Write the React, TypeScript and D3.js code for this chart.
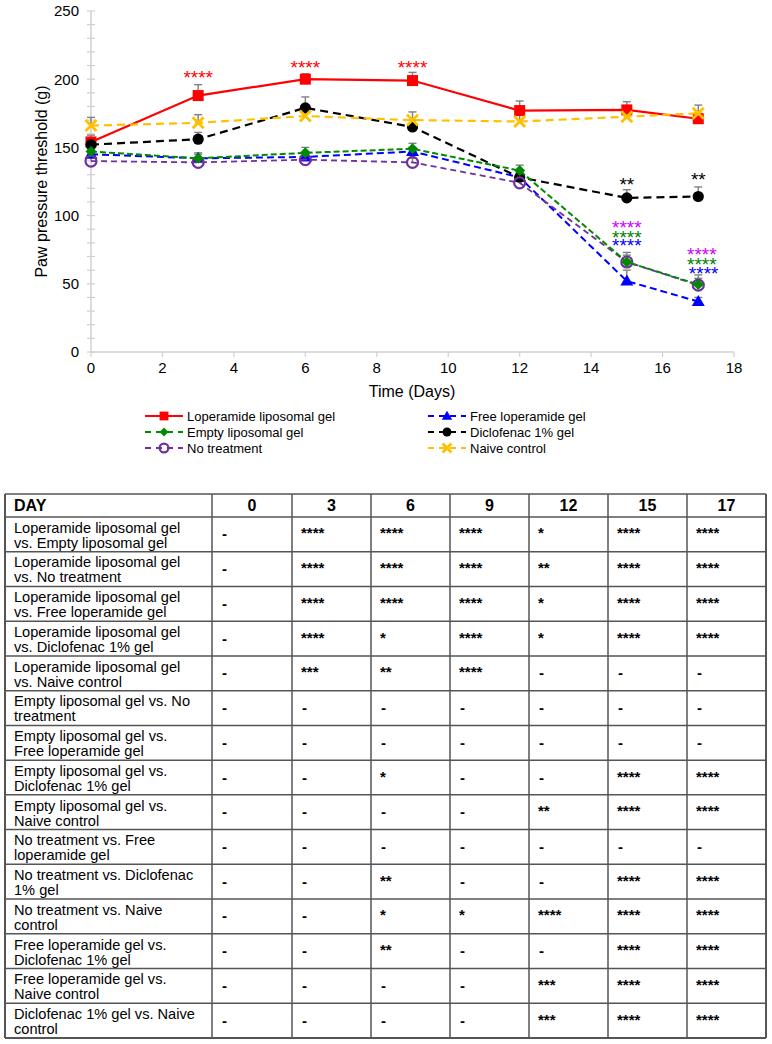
import * as d3 from 'd3'

const days = [0, 3, 6, 9, 12, 15, 17]

const loperamideLipo = [154, 188, 200, 199, 177, 177.5, 171]
const loperamideLipoErr = [5, 8, 4, 6, 7, 6, 4]
const freeLoperamide = [145, 142, 143, 147, 128, 52, 37]
const freeLoperamideErr = [3, 3, 3, 3, 3, 8, 3]
const diclofenac = [152, 156, 179, 165, 128, 113, 114]
const diclofenacErr = [5, 5, 8, 5, 4, 6, 7]
const noTreatment = [140, 139, 141, 139, 124, 66, 49]
const noTreatmentErr = [3, 3, 3, 3, 3, 5, 5]
const emptyLipo = [147, 142, 146, 149, 133, 66, 49.5]
const emptyLipoErr = [4, 4, 4, 4, 4, 7, 7]
const naiveControl = [166, 168, 173, 170, 169, 172.5, 175]
const naiveControlErr = [6, 6, 3, 6, 5, 4, 6]

const yTicks = [0, 50, 100, 150, 200, 250]
const xTicks = [0, 2, 4, 6, 8, 10, 12, 14, 16, 18]

// significance marks on the chart: day, value of the text baseline, colour
const chartStars = [
  { day: 3, y: 196.5, color: '#ff0000', text: '****' },
  { day: 6, y: 204, color: '#ff0000', text: '****' },
  { day: 9, y: 204, color: '#ff0000', text: '****' },
  { day: 15, y: 118, color: '#000000', text: '**' },
  { day: 17, y: 122, color: '#000000', text: '**' },
  { day: 15, y: 86.2, color: '#cc00ff', text: '****' },
  { day: 15, y: 79.3, color: '#008000', text: '****' },
  { day: 15, y: 73.4, color: '#0000ff', text: '****' },
  { day: 17.1, y: 66.7, color: '#cc00ff', text: '****' },
  { day: 17.1, y: 59.4, color: '#008000', text: '****' },
  { day: 17.15, y: 52.8, color: '#0000ff', text: '****' },
]

const tableDays = ['0', '3', '6', '9', '12', '15', '17']
const comparisons = [
  ['Loperamide liposomal gel', 'vs. Empty liposomal gel'],
  ['Loperamide liposomal gel', 'vs. No treatment'],
  ['Loperamide liposomal gel', 'vs. Free loperamide gel'],
  ['Loperamide liposomal gel', 'vs. Diclofenac 1% gel'],
  ['Loperamide liposomal gel', 'vs. Naive control'],
  ['Empty liposomal gel vs. No', 'treatment'],
  ['Empty liposomal gel vs.', 'Free loperamide gel'],
  ['Empty liposomal gel vs.', 'Diclofenac 1% gel'],
  ['Empty liposomal gel vs.', 'Naive control'],
  ['No treatment vs. Free', 'loperamide gel'],
  ['No treatment vs. Diclofenac', '1% gel'],
  ['No treatment vs. Naive', 'control'],
  ['Free loperamide gel vs.', 'Diclofenac 1% gel'],
  ['Free loperamide gel vs.', 'Naive control'],
  ['Diclofenac 1% gel vs. Naive', 'control'],
]
const significance = [
  ['-', '****', '****', '****', '*', '****', '****'],
  ['-', '****', '****', '****', '**', '****', '****'],
  ['-', '****', '****', '****', '*', '****', '****'],
  ['-', '****', '*', '****', '*', '****', '****'],
  ['-', '***', '**', '****', '-', '-', '-'],
  ['-', '-', '-', '-', '-', '-', '-'],
  ['-', '-', '-', '-', '-', '-', '-'],
  ['-', '-', '*', '-', '-', '****', '****'],
  ['-', '-', '-', '-', '**', '****', '****'],
  ['-', '-', '-', '-', '-', '-', '-'],
  ['-', '-', '**', '-', '-', '****', '****'],
  ['-', '-', '*', '*', '****', '****', '****'],
  ['-', '-', '**', '-', '-', '****', '****'],
  ['-', '-', '-', '-', '***', '****', '****'],
  ['-', '-', '-', '-', '***', '****', '****'],
]

const series = [
  { name: 'Loperamide liposomal gel', values: loperamideLipo, err: loperamideLipoErr, color: '#ff0000', dash: null, width: 2.2, marker: 'square' },
  { name: 'Free loperamide gel', values: freeLoperamide, err: freeLoperamideErr, color: '#0000ff', dash: '7,4', width: 2, marker: 'triangle' },
  { name: 'Diclofenac 1% gel', values: diclofenac, err: diclofenacErr, color: '#000000', dash: '8,5', width: 2.2, marker: 'circle' },
  { name: 'No treatment', values: noTreatment, err: noTreatmentErr, color: '#7030a0', dash: '6,4', width: 1.8, marker: 'open' },
  { name: 'Empty liposomal gel', values: emptyLipo, err: emptyLipoErr, color: '#008a00', dash: '6,3', width: 2, marker: 'diamond' },
  { name: 'Naive control', values: naiveControl, err: naiveControlErr, color: '#ffc000', dash: '8,5', width: 2.2, marker: 'cross' },
]

const legendOrder = [
  ['Loperamide liposomal gel', 'Free loperamide gel'],
  ['Empty liposomal gel', 'Diclofenac 1% gel'],
  ['No treatment', 'Naive control'],
]

const font = 'Liberation Sans, Arial, sans-serif'

const Marker = ({ type, cx, cy, color, scale = 1 }) => {
  const s = scale
  if (type === 'square') return <rect x={cx - 5.5 * s} y={cy - 5.5 * s} width={11 * s} height={11 * s} fill={color} />
  if (type === 'circle') return <circle cx={cx} cy={cy} r={5.6 * s} fill={color} />
  if (type === 'open') return <circle cx={cx} cy={cy} r={5.5 * s} fill='none' stroke={color} strokeWidth={2.2} />
  if (type === 'diamond') {
    const r = 5.5 * s
    return <path d={`M${cx},${cy - r}L${cx + r},${cy}L${cx},${cy + r}L${cx - r},${cy}Z`} fill={color} />
  }
  if (type === 'triangle') {
    const r = 6.5 * s
    return <path d={`M${cx},${cy - r}L${cx + r},${cy + r * 0.7}L${cx - r},${cy + r * 0.7}Z`} fill={color} />
  }
  const r = 5.5 * s
  return (
    <path
      d={`M${cx - r},${cy - r}L${cx + r},${cy + r}M${cx + r},${cy - r}L${cx - r},${cy + r}`}
      stroke={color}
      strokeWidth={2.8}
    />
  )
}

const App = () => {
  const x = d3.scaleLinear().domain([0, 18]).range([91, 734])
  const y = d3.scaleLinear().domain([0, 250]).range([352, 11])
  const minorY = d3.range(0, 251, 10)

  const line = d3
    .line<number>()
    .x((_, i) => x(days[i]))
    .y((d) => y(d))

  // table layout
  const colEdges = [5, 212, 292, 371, 450, 529, 608, 687, 766]
  const tableTop = 494
  const headerBottom = 517
  const tableBottom = 1038
  const rowY = d3.scaleBand<number>().domain(d3.range(comparisons.length)).range([headerBottom, tableBottom])
  const rowH = rowY.bandwidth()

  return (
    <svg width={772} height={1044} style={{ position: 'absolute', left: 0, top: 0 }} fontFamily={font}>
      <rect width={772} height={1044} fill='#ffffff' />

      {/* axes */}
      <line x1={x(0)} x2={x(0)} y1={y(250)} y2={y(0)} stroke='#d0d0d0' strokeWidth={1.5} />
      <line x1={x(0)} x2={x(18)} y1={y(0)} y2={y(0)} stroke='#d0d0d0' strokeWidth={1.5} />
      {minorY.map((t) => (
        <line key={'m' + t} x1={x(0) - 4} x2={x(0) + 4} y1={y(t)} y2={y(t)} stroke='#d0d0d0' strokeWidth={1.2} />
      ))}
      {yTicks.map((t) => (
        <text key={'y' + t} x={79} y={y(t)} dy='0.36em' textAnchor='end' fontSize={15} fill='#000'>
          {t}
        </text>
      ))}
      {xTicks.map((t) => (
        <g key={'x' + t}>
          <line x1={x(t)} x2={x(t)} y1={y(0)} y2={y(0) + 5} stroke='#d0d0d0' strokeWidth={1.2} />
          <text x={x(t)} y={y(0) + 21} textAnchor='middle' fontSize={15} fill='#000'>
            {t}
          </text>
        </g>
      ))}
      <text transform={`translate(47,${y(125)}) rotate(-90)`} textAnchor='middle' fontSize={16} fill='#000'>
        Paw pressure threshold (g)
      </text>
      <text x={412} y={397} textAnchor='middle' fontSize={16} fill='#000'>
        Time (Days)
      </text>

      {/* error bars */}
      {series.map((s) =>
        s.values.map((v, i) => (
          <g key={s.name + 'e' + i} stroke='#808080' strokeWidth={1.4}>
            <line x1={x(days[i])} x2={x(days[i])} y1={y(v)} y2={y(v + s.err[i])} />
            <line x1={x(days[i]) - 4} x2={x(days[i]) + 4} y1={y(v + s.err[i])} y2={y(v + s.err[i])} />
          </g>
        ))
      )}

      {/* series */}
      {series.map((s) => (
        <g key={s.name}>
          <path d={line(s.values) || ''} fill='none' stroke={s.color} strokeWidth={s.width} strokeDasharray={s.dash || undefined} />
          {s.values.map((v, i) => (
            <Marker key={i} type={s.marker} cx={x(days[i])} cy={y(v)} color={s.color} />
          ))}
        </g>
      ))}

      {chartStars.map((st, i) => (
        <text key={'s' + i} x={x(st.day)} y={y(st.y)} textAnchor='middle' fontSize={19} fill={st.color}>
          {st.text}
        </text>
      ))}

      {/* legend */}
      {legendOrder.map((row, r) =>
        row.map((name, c) => {
          const s = series.find((d) => d.name === name)
          const lx = c === 0 ? 145 : 428
          const ly = 416 + r * 16
          return (
            <g key={name}>
              <line x1={lx} x2={lx + 38} y1={ly} y2={ly} stroke={s.color} strokeWidth={s.width} strokeDasharray={s.dash ? '6,5' : undefined} />
              <Marker type={s.marker} cx={lx + 19} cy={ly} color={s.color} scale={0.8} />
              <text x={lx + 42} y={ly} dy='0.36em' fontSize={13} fill='#000'>
                {name}
              </text>
            </g>
          )
        })
      )}

      {/* table */}
      <g>
        {tableDays.map((d, i) => (
          <text key={'h' + d} x={(colEdges[i + 1] + colEdges[i + 2]) / 2} y={(tableTop + headerBottom) / 2} dy='0.36em' textAnchor='middle' fontSize={16} fontWeight='bold'>
            {d}
          </text>
        ))}
        <text x={14} y={(tableTop + headerBottom) / 2} dy='0.36em' fontSize={16} fontWeight='bold'>
          DAY
        </text>
        {comparisons.map((lbl, r) => {
          const top = rowY(r)
          return (
            <g key={'r' + r}>
              <text x={14} y={top + 10.5} dy='0.36em' fontSize={14.6}>
                {lbl[0]}
              </text>
              <text x={14} y={top + 25.5} dy='0.36em' fontSize={14.6}>
                {lbl[1]}
              </text>
              {significance[r].map((v, c) => (
                <text
                  key={c}
                  x={colEdges[c + 1] + (v === '-' ? 10 : 9)}
                  y={top + rowH / 2 + (v === '-' ? 5 : 4)}
                  fontSize={v === '-' ? 15 : 15}
                  fontWeight='bold'
                >
                  {v}
                </text>
              ))}
            </g>
          )
        })}
        {/* grid lines */}
        {[tableTop, headerBottom, ...d3.range(1, comparisons.length).map((r) => rowY(r))].map((yy, i) => (
          <line key={'hl' + i} x1={colEdges[0]} x2={colEdges[colEdges.length - 1]} y1={yy} y2={yy} stroke='#555' strokeWidth={1.5} />
        ))}
        <line x1={colEdges[0]} x2={colEdges[colEdges.length - 1]} y1={tableBottom} y2={tableBottom} stroke='#555' strokeWidth={2} />
        {colEdges.map((xx, i) => (
          <line key={'vl' + i} x1={xx} x2={xx} y1={tableTop} y2={tableBottom} stroke='#555' strokeWidth={i === 0 || i === colEdges.length - 1 ? 2 : 1.5} />
        ))}
      </g>
    </svg>
  )
}

export default App
